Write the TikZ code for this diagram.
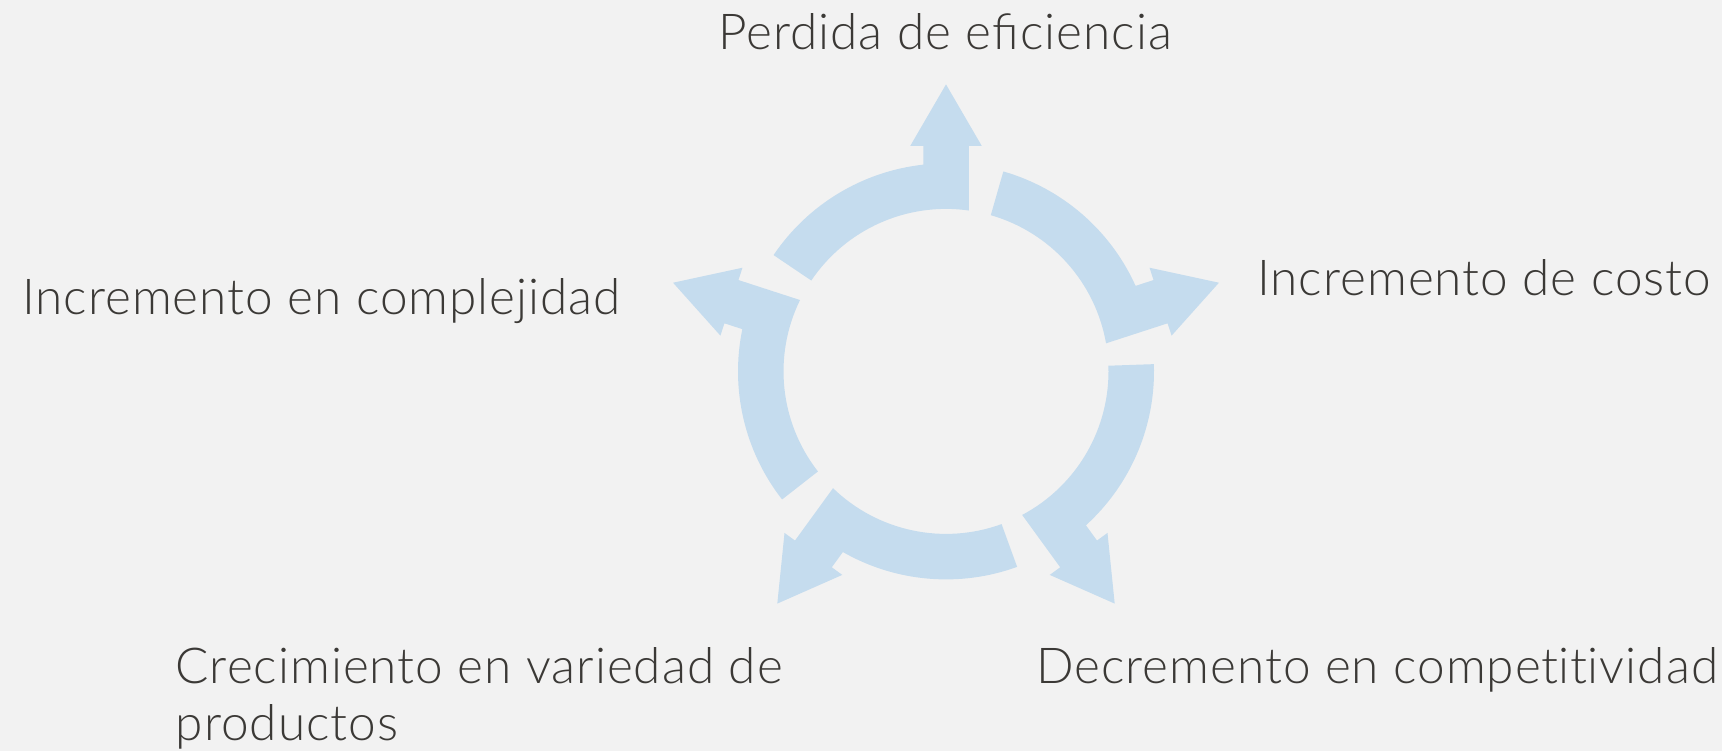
\documentclass[tikz,border=0pt]{standalone}
\usepackage{fontspec}
\setmainfont{Lato Light}[LetterSpace=2]
\newcommand{\nolig}{\kern0pt\relax}
\definecolor{bgcol}{HTML}{F2F2F2}
\definecolor{arrowblue}{HTML}{C5DCEE}
\definecolor{txtcol}{HTML}{3B3936}
\begin{document}
\begin{tikzpicture}[x=1pt,y=1pt,
  lbl/.style={font=\fontsize{49.5}{58}\selectfont, text=txtcol, inner sep=0pt},
  arrowfill/.style={fill=arrowblue}]
\useasboundingbox (0,0) rectangle (1722,-751);
\fill[bgcol] (0,0) rectangle (1722,-751);
\coordinate (C) at (946,-371.4);
\foreach \t in {90,18,-54,-126,162}{
  \begin{scope}[shift={(C)},rotate=\t]
    \fill[arrowfill] (-8.05:162.5pt) -- (225.6pt,-22.75pt) -- (225.6pt,-35.7pt)
      -- (287pt,0pt) -- (225.6pt,35.7pt) -- (225.6pt,22.75pt) -- (6.28:208pt)
      arc[start angle=6.28, end angle=56, radius=208pt] -- (56:162.5pt)
      arc[start angle=56, end angle=-8.05, radius=162.5pt] -- cycle;
  \end{scope}
}
\node[lbl, anchor=base] (perdida) at (945,-49.3) {Perdida de eficiencia};
\node[lbl, anchor=base west] (costo) at (1257,-296) {Incremento de costo};
\node[lbl, anchor=base east] (complejidad) at (621,-315) {Incremento en complejidad};
\node[lbl, anchor=base west] (decremento) at (1036,-683.3) {Decremento en compet\nolig it\nolig ividad};
\node[lbl, anchor=base west] (crecA) at (175.5,-683.3) {Crecimiento en variedad de};
\node[lbl, anchor=base west] (crecB) at (175.5,-740) {productos};
\end{tikzpicture}
\end{document}
